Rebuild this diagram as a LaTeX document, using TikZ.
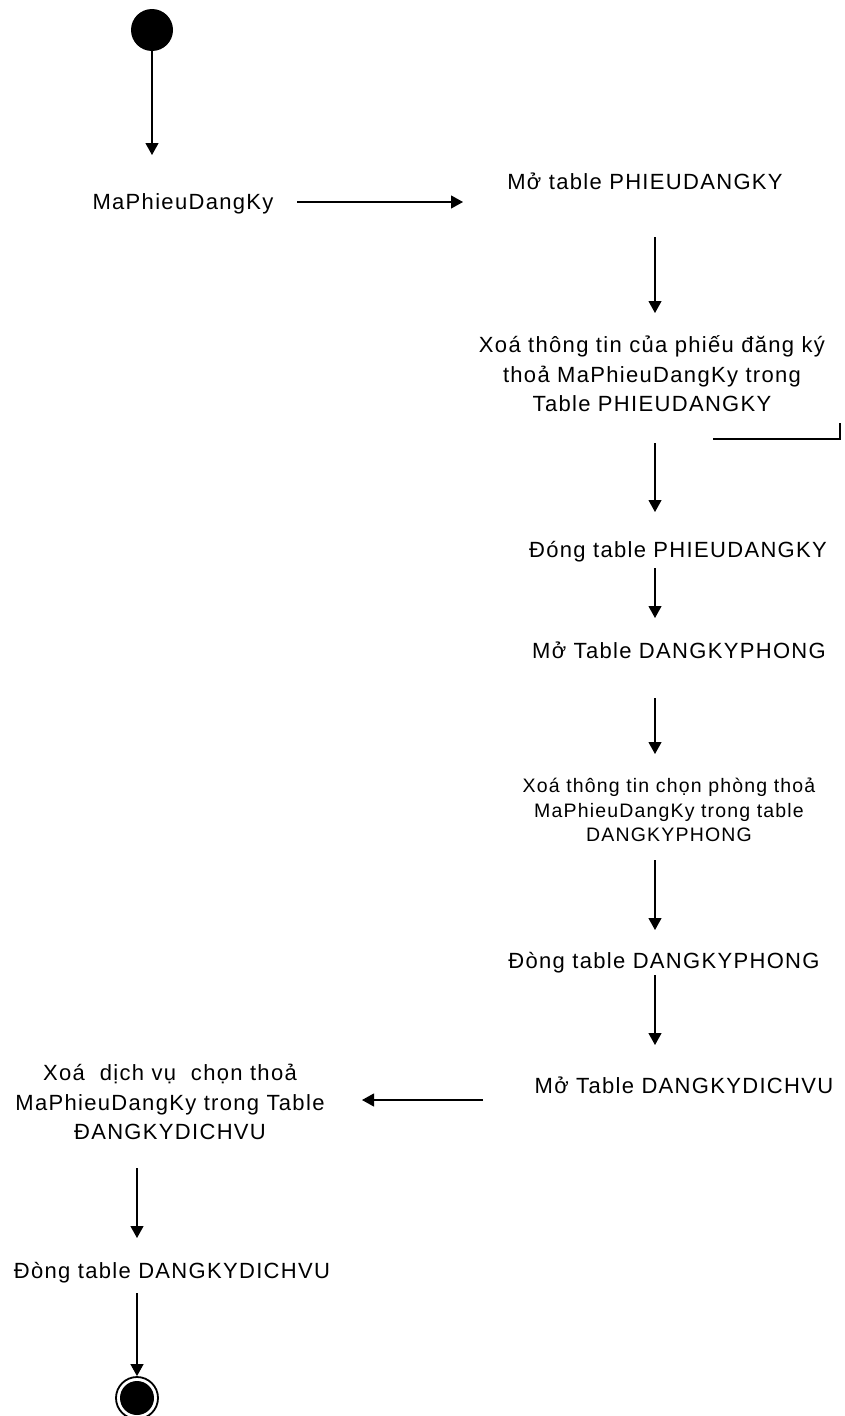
\documentclass[tikz,border=0pt]{standalone}
\usepackage{fontspec}
\setmainfont{Liberation Sans}[LetterSpace=6]
\usetikzlibrary{arrows.meta}
\tikzset{
  lbl/.style={font=\fontsize{22}{29.5}\selectfont, inner sep=0pt, anchor=base},
  mlbl/.style={font=\fontsize{22}{29.5}\selectfont, inner sep=0pt, anchor=south, align=center},
  slbl/.style={font=\fontsize{19.5}{24.5}\selectfont, inner sep=0pt, anchor=south, align=center},
  flow/.style={line width=1.1pt, -{Triangle[width=13pt,length=12pt]}},
  plain/.style={line width=1.8pt}
}
\begin{document}
\begin{tikzpicture}[x=1pt,y=-1pt]
\useasboundingbox (0,0) rectangle (845,1416);
\fill[white] (0,0) rectangle (845,1416);

% start / end
\node (start) [circle, fill=black, minimum size=42pt, inner sep=0pt] at (152,30) {};
\node (endo) [circle, draw=black, line width=1.8pt, minimum size=42pt, inner sep=0pt] at (137,1398) {};
\node (endi) [circle, fill=black, minimum size=34pt, inner sep=0pt] at (137,1398) {};

% texts
\node (ma)   [lbl] at (183,209) {MaPhieuDangKy};
\node (mo1)  [lbl] at (645,189) {Mở table PHIEUDANGKY};
\node (xoa1) [mlbl] at (652,412) {Xoá thông tin của phiếu đăng ký\\thoả MaPhieuDangKy trong\\Table PHIEUDANGKY};
\node (dong1)[lbl] at (678,557) {Đóng table PHIEUDANGKY};
\node (mo2)  [lbl] at (679,658) {Mở Table DANGKYPHONG};
\node (xoa2) [slbl] at (669,842) {Xoá thông tin chọn phòng thoả\\MaPhieuDangKy trong table\\DANGKYPHONG};
\node (dong2)[lbl] at (664,968) {Đòng table DANGKYPHONG};
\node (mo3)  [lbl] at (684,1093) {Mở Table DANGKYDICHVU};
\node (xoa3) [mlbl] at (170,1140) {Xoá\ \ dịch vụ\ \ chọn thoả\\MaPhieuDangKy trong Table\\ĐANGKYDICHVU};
\node (dong3)[lbl] at (172,1278) {Đòng table DANGKYDICHVU};

% connector end points
\coordinate (a1) at (152,155);
\coordinate (a2s) at (297,202); \coordinate (a2e) at (463,202);
\coordinate (a3s) at (655,237); \coordinate (a3e) at (655,313);
\coordinate (a4s) at (655,443); \coordinate (a4e) at (655,512);
\coordinate (a5s) at (655,568); \coordinate (a5e) at (655,618);
\coordinate (a6s) at (655,698); \coordinate (a6e) at (655,754);
\coordinate (a7s) at (655,860); \coordinate (a7e) at (655,930);
\coordinate (a8s) at (655,975); \coordinate (a8e) at (655,1045);
\coordinate (a9s) at (483,1100); \coordinate (a9e) at (362,1100);
\coordinate (a10s) at (137,1168); \coordinate (a10e) at (137,1238);
\coordinate (a11s) at (137,1293);
\coordinate (b1) at (713,439); \coordinate (b2) at (840,439); \coordinate (b3) at (840,423);

\draw[flow] (start.south) -- (a1);
\draw[flow] (a2s) -- (a2e);
\draw[flow] (a3s) -- (a3e);
\draw[flow] (a4s) -- (a4e);
\draw[flow] (a5s) -- (a5e);
\draw[flow] (a6s) -- (a6e);
\draw[flow] (a7s) -- (a7e);
\draw[flow] (a8s) -- (a8e);
\draw[flow] (a9s) -- (a9e);
\draw[flow] (a10s) -- (a10e);
\draw[flow] (a11s) -- (endo.north);
\draw[plain] (b1) -- (b2) -- (b3);
\end{tikzpicture}
\end{document}
